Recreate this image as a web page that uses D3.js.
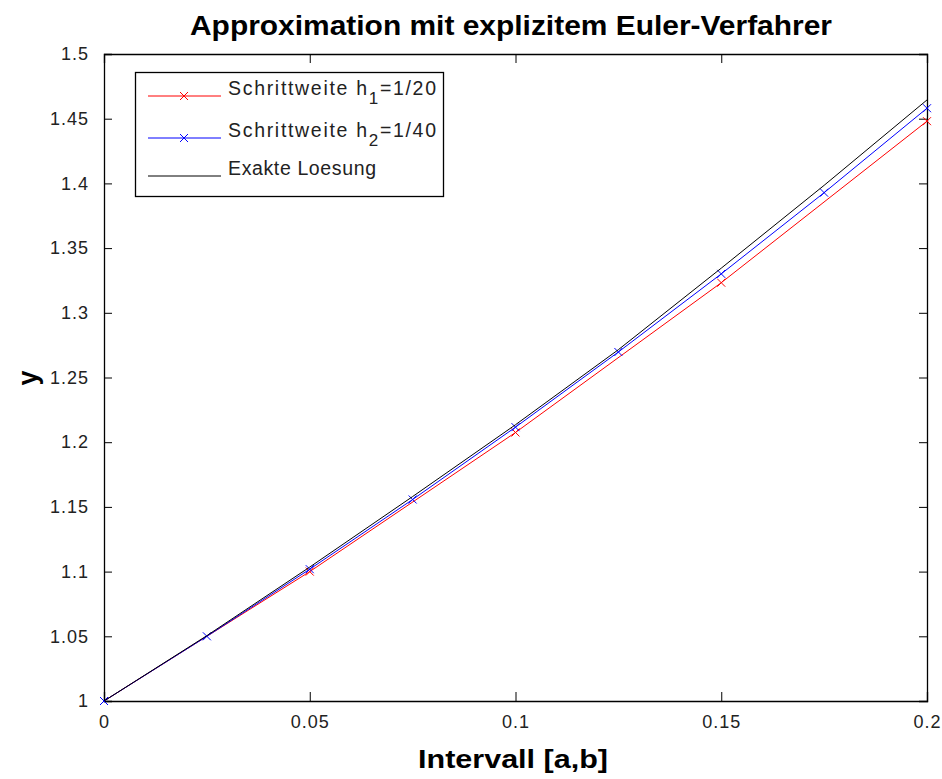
<!DOCTYPE html>
<html>
<head>
<meta charset="utf-8">
<script src="https://d3js.org/d3.v7.min.js"></script>
<style>
  body { margin: 0; background: #fff; }
  svg { font-family: "Liberation Sans", Arial, sans-serif; }
  .tick-lbl { font-size: 18px; fill: #222; letter-spacing: 1px; }
</style>
</head>
<body>
<div id="chart"></div>
<script>
// Schrittweite h1 = 1/20
var xH1 = [0, 0.05, 0.1, 0.15, 0.2];
var yH1 = [1, 1.1, 1.2075, 1.32325, 1.44808];
// Schrittweite h2 = 1/40
var xH2 = [0, 0.025, 0.05, 0.075, 0.1, 0.125, 0.15, 0.175, 0.2];
var yH2 = [1, 1.05, 1.101875, 1.155719, 1.21163, 1.269711, 1.330072, 1.392825, 1.458092];
// exakte Loesung
var xEx = [0, 0.025, 0.05, 0.075, 0.1, 0.125, 0.15, 0.175, 0.2];
var yEx = [1, 1.0505, 1.1035, 1.158, 1.2135, 1.2715, 1.3345, 1.3985, 1.4645];

var xTicks = [0, 0.05, 0.1, 0.15, 0.2];
var yTicks = [1, 1.05, 1.1, 1.15, 1.2, 1.25, 1.3, 1.35, 1.4, 1.45, 1.5];
var legendLabels = [["Schrittweite h", "1", "=1/20"], ["Schrittweite h", "2", "=1/40"], ["Exakte Loesung"]];

var W = 942, H = 779;
var m = {left: 104, right: 15, top: 54, bottom: 78};

var svg = d3.select("#chart").append("svg").attr("width", W).attr("height", H);

var x = d3.scaleLinear().domain([0, 0.2]).range([m.left, W - m.right]);
var y = d3.scaleLinear().domain([1, 1.5]).range([H - m.bottom, m.top]);

// axes box with inward ticks (matlab style)
svg.append("g").attr("transform", "translate(0," + y(1) + ")")
  .call(d3.axisBottom(x).tickValues(xTicks).tickSize(-9).tickPadding(14).tickFormat(d3.format("~g")));
svg.append("g").attr("transform", "translate(0," + y(1.5) + ")")
  .call(d3.axisTop(x).tickValues(xTicks).tickSize(-9).tickFormat(""));
svg.append("g").attr("transform", "translate(" + x(0) + ",0)")
  .call(d3.axisLeft(y).tickValues(yTicks).tickSize(-8).tickPadding(15).tickFormat(d3.format("~g")));
svg.append("g").attr("transform", "translate(" + x(0.2) + ",0)")
  .call(d3.axisRight(y).tickValues(yTicks).tickSize(-8).tickFormat(""));

svg.selectAll(".domain").attr("stroke", "#000").attr("stroke-width", 1.3);
svg.selectAll(".tick line").attr("stroke", "#000");
svg.selectAll(".tick text").attr("class", "tick-lbl").attr("font-size", null).attr("font-family", null);

function series(xs, ys, color, marks) {
  var pts = xs.map(function(v, i) { return [v, ys[i]]; });
  svg.append("path").datum(pts)
    .attr("fill", "none").attr("stroke", color).attr("stroke-width", 1)
    .attr("d", d3.line().x(function(d){ return x(d[0]); }).y(function(d){ return y(d[1]); }));
  if (marks) {
    svg.append("g").selectAll("path").data(pts).enter().append("path")
      .attr("d", function(d) {
        var cx = x(d[0]), cy = y(d[1]), s = 4;
        return "M" + (cx - s) + "," + (cy - s) + "L" + (cx + s) + "," + (cy + s) +
               "M" + (cx - s) + "," + (cy + s) + "L" + (cx + s) + "," + (cy - s);
      })
      .attr("stroke", color).attr("stroke-width", 1).attr("fill", "none");
  }
}
series(xH1, yH1, "#ff0000", true);
series(xH2, yH2, "#0000ff", true);
series(xEx, yEx, "#000000", false);

// legend
var lg = svg.append("g");
lg.append("rect").attr("x", 135.5).attr("y", 72.5).attr("width", 308).attr("height", 124)
  .attr("fill", "#fff").attr("stroke", "#000").attr("stroke-width", 1.3);
var legColors = ["#ff0000", "#0000ff", "#000000"];
var rowY = [96, 138, 176];
var legWidths = [208, 208, 148];
legendLabels.forEach(function(lab, i) {
  var yy = rowY[i];
  lg.append("line").attr("x1", 148).attr("x2", 221).attr("y1", yy).attr("y2", yy)
    .attr("stroke", legColors[i]).attr("stroke-width", 1);
  if (i < 2) {
    lg.append("path").attr("d", "M180," + (yy - 4) + "L188," + (yy + 4) + "M180," + (yy + 4) + "L188," + (yy - 4))
      .attr("stroke", legColors[i]).attr("fill", "none");
  }
  var t = lg.append("text").attr("x", 228).attr("y", yy - 1).attr("font-size", 19.5)
    .attr("fill", "#222").attr("textLength", legWidths[i]).attr("lengthAdjust", "spacing");
  t.append("tspan").text(lab[0]);
  if (lab.length > 1) {
    t.append("tspan").attr("dy", 9).attr("font-size", 17).text(lab[1]);
    t.append("tspan").attr("dy", -9).text(lab[2]);
  }
});

// title and axis labels
svg.append("text").attr("x", 511).attr("y", 35).attr("text-anchor", "middle")
  .attr("font-size", 27).attr("font-weight", "bold")
  .attr("textLength", 642).attr("lengthAdjust", "spacingAndGlyphs")
  .text("Approximation mit explizitem Euler-Verfahrer");
svg.append("text").attr("x", 513).attr("y", 768).attr("text-anchor", "middle")
  .attr("font-size", 26).attr("font-weight", "bold")
  .attr("textLength", 190).attr("lengthAdjust", "spacingAndGlyphs").text("Intervall [a,b]");
svg.append("text").attr("transform", "translate(37,378) rotate(-90)").attr("text-anchor", "middle")
  .attr("font-size", 27).attr("font-weight", "bold").text("y");
</script>
</body>
</html>
